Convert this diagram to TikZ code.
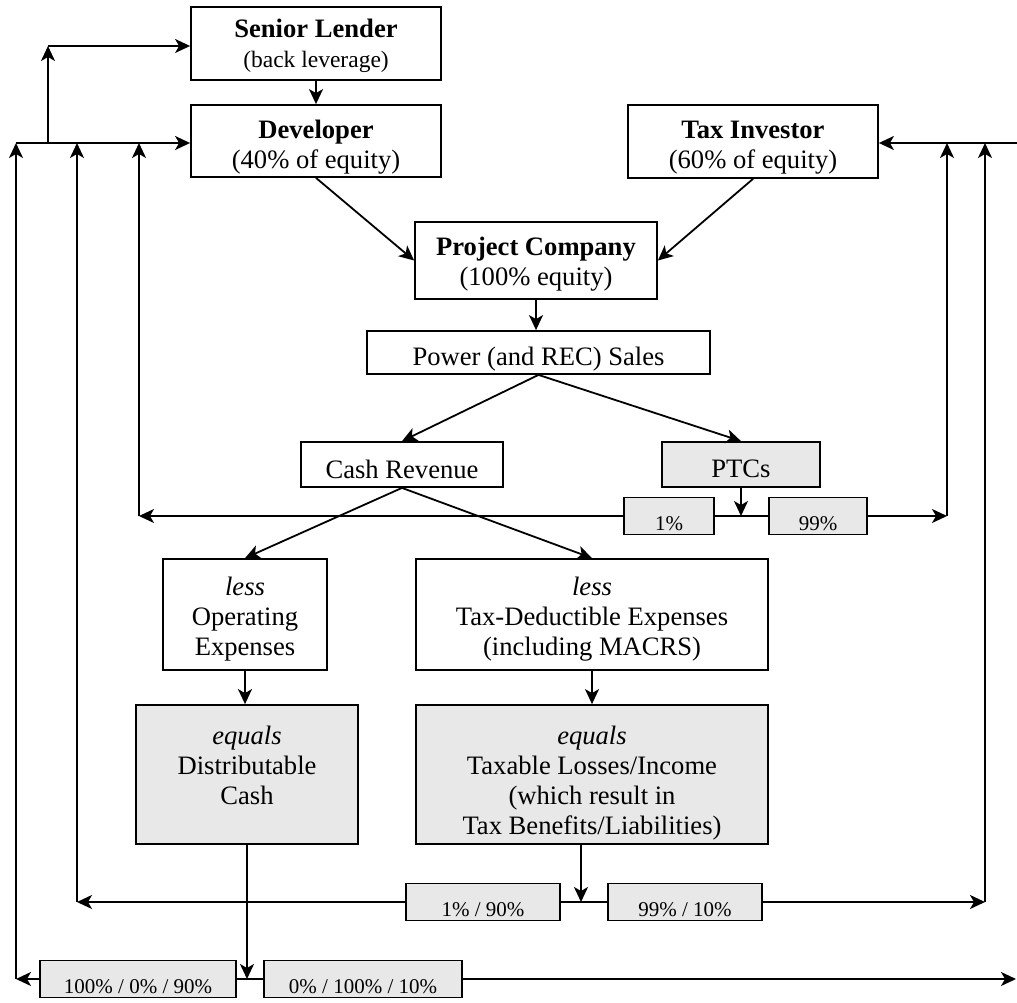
\documentclass[tikz,border=0pt]{standalone}
\usepackage{fontspec}
\setmainfont{Liberation Serif}
\usetikzlibrary{arrows.meta}
\definecolor{boxgray}{RGB}{232,232,232}
\newcommand\mainsize{\fontsize{26.6}{30}\selectfont}
\newcommand\notesize{\fontsize{23.5}{28}\selectfont}
\newcommand\sharesize{\fontsize{21}{25}\selectfont}
\begin{document}
\begin{tikzpicture}[x=1pt,y=-1pt,
  >={Stealth[length=15pt,width=14pt,inset=4pt]},
  box/.style={draw, line width=1.8pt, inner sep=0pt, align=center, font=\mainsize},
  shaded/.style={box, fill=boxgray},
  share/.style={draw, line width=1.8pt, fill=boxgray, inner sep=0pt, font=\sharesize,
                text height=33pt, text depth=4pt},
  link/.style={line width=1.8pt, ->},
  plain/.style={line width=1.8pt}]
\useasboundingbox (0,0) rectangle (1017,1003);

% parties (text height runs to the baseline of the last line)
\node[box, minimum width=250pt, text height=61pt, text depth=12pt] (senior) at (316,43.5)
  {\textbf{Senior Lender}\\{\notesize(back leverage)}};
\node[box, minimum width=250pt, text height=64pt, text depth=8pt] (dev) at (316,141)
  {\textbf{Developer}\\(40\% of equity)};
\node[box, minimum width=250pt, text height=64pt, text depth=9pt] (tax) at (753,141.5)
  {\textbf{Tax Investor}\\(60\% of equity)};
\node[box, minimum width=242pt, text height=63pt, text depth=14pt] (proj) at (536,260.5)
  {\textbf{Project Company}\\(100\% equity)};

% revenue flow
\node[box, minimum width=343pt, text height=34pt, text depth=9pt] (power) at (538.5,352.5)
  {Power (and REC) Sales};
\node[box, minimum width=202pt, text height=36pt, text depth=9pt] (cash) at (402,464.5)
  {Cash Revenue};
\node[shaded, minimum width=158pt, text height=35pt, text depth=10pt] (ptcs) at (741,464.5)
  {PTCs};
\node[box, minimum width=164pt, text height=96pt, text depth=15pt] (lessop) at (245,614.5)
  {\textit{less}\\Operating\\Expenses};
\node[box, minimum width=352pt, text height=96pt, text depth=15pt] (lesstax) at (592,614.5)
  {\textit{less}\\Tax-Deductible Expenses\\(including MACRS)};
\node[shaded, minimum width=222pt, text height=99pt, text depth=40pt] (dist) at (247,774.5)
  {\textit{equals}\\Distributable\\Cash};
\node[shaded, minimum width=352pt, text height=129pt, text depth=10pt] (taxable) at (592,774.5)
  {\textit{equals}\\Taxable Losses/Income\\(which result in\\Tax Benefits/Liabilities)};

% allocation shares
\node[share, minimum width=90pt] (p1) at (669,516) {1\%};
\node[share, minimum width=98pt] (p99) at (818,516) {99\%};
\node[share, minimum width=154pt] (m1) at (483,902) {1\% / 90\%};
\node[share, minimum width=154pt] (m2) at (685,902) {99\% / 10\%};
\node[share, minimum width=196pt] (b1) at (138,979) {100\% / 0\% / 90\%};
\node[share, minimum width=198pt] (b2) at (363,979) {0\% / 100\% / 10\%};

% routing points
\coordinate (psplit) at (741,516);
\coordinate (msplit) at (581,902);
\coordinate (bsplit) at (247,979);
\coordinate (l16b) at (16,979);   \coordinate (l16t) at (16,143);
\coordinate (l77b) at (77,902);   \coordinate (l77t) at (77,143);
\coordinate (l139b) at (139,516); \coordinate (l139t) at (139,143);
\coordinate (l48b) at (48,143);   \coordinate (l48t) at (48,46);
\coordinate (r947b) at (947,516); \coordinate (r947t) at (947,143);
\coordinate (r985b) at (985,902); \coordinate (r985t) at (985,143);
\coordinate (redge) at (1017,143);
\coordinate (rend) at (1016,979);

% main flow
\draw[link] (senior) -- (dev);
\draw[link] (dev.south) -- (proj.west);
\draw[link] (tax.south) -- (proj.east);
\draw[link] (proj.south) -- (proj.south |- power.north);
\draw[link] (power.south) -- (cash.north);
\draw[link] (power.south) -- (ptcs.north);
\draw[link] (cash.south) -- (lessop.north);
\draw[link] (cash.south) -- (lesstax.north);
\draw[link] (lessop.south) -- (lessop.south |- dist.north);
\draw[link] (lesstax) -- (taxable);

% PTC allocation
\draw[plain] (p1) -- (p99);
\draw[link] (ptcs.south) -- (psplit);
\draw[link] (p1.west) -- (l139b);
\draw[link] (l139b) -- (l139t);
\draw[link] (p99.east) -- (r947b);
\draw[link] (r947b) -- (r947t);

% taxable income allocation
\draw[plain] (m1) -- (m2);
\draw[link] (taxable.south -| msplit) -- (msplit);
\draw[link] (m1.west) -- (l77b);
\draw[link] (l77b) -- (l77t);
\draw[link] (m2.east) -- (r985b);
\draw[link] (r985b) -- (r985t);

% cash allocation
\draw[plain] (b1) -- (b2);
\draw[link] (dist.south -| bsplit) -- (bsplit);
\draw[link] (b1.west) -- (l16b);
\draw[link] (l16b) -- (l16t);
\draw[link] (b2.east) -- (rend);

% returns to the parties
\draw[link] (l16t) -- (dev.west |- l16t);
\draw[link] (l48b) -- (l48t);
\draw[link] (l48t) -- (senior.west |- l48t);
\draw[link] (redge) -- (tax.east |- redge);
\end{tikzpicture}
\end{document}
